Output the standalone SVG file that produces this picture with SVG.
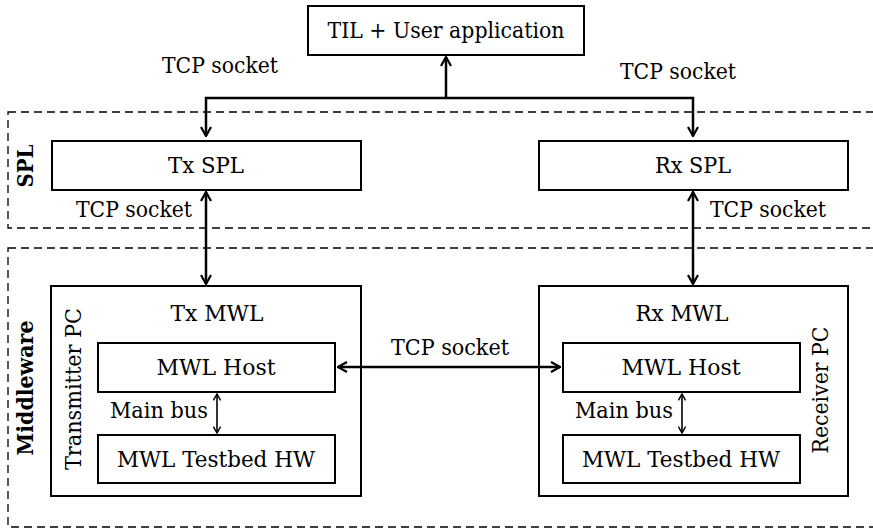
<svg xmlns="http://www.w3.org/2000/svg" width="873" height="529" viewBox="0 0 873 529">
<defs>
<style>
.bx{fill:#fff;stroke:#000;stroke-width:2}
.dash{fill:none;stroke:#000;stroke-width:1.3;stroke-dasharray:8 5}
.t{font-family:"DejaVu Serif","Liberation Serif",serif;font-size:22.5px;fill:#000;text-anchor:middle}
.b{font-weight:bold}
.c{fill:none;stroke:#000;stroke-width:2.5}
.cs{fill:none;stroke:#000;stroke-width:1.6}
</style>
<marker id="ah" viewBox="0 0 12 12" refX="11" refY="6" markerWidth="12" markerHeight="12" markerUnits="userSpaceOnUse" orient="auto-start-reverse">
<path d="M2,1 L11,6 L2,11" fill="none" stroke="#000" stroke-width="2.2"/>
</marker>
<marker id="ahs" viewBox="0 0 10 10" refX="9" refY="5" markerWidth="9" markerHeight="9" markerUnits="userSpaceOnUse" orient="auto-start-reverse">
<path d="M2,1 L9,5 L2,9" fill="none" stroke="#000" stroke-width="1.6"/>
</marker>
</defs>
<rect width="873" height="529" fill="#fff"/>

<g id="spl-region">
<rect class="dash" x="8" y="112" width="880" height="116"/>
<text class="t b" transform="translate(33,166) rotate(-90)" textLength="43" lengthAdjust="spacingAndGlyphs">SPL</text>
</g>
<g id="middleware-region">
<rect class="dash" x="8" y="248" width="880" height="279"/>
<text class="t b" transform="translate(33,388) rotate(-90)" textLength="135" lengthAdjust="spacingAndGlyphs">Middleware</text>
</g>

<g id="til">
<rect class="bx" x="308" y="6" width="276" height="49"/>
<text class="t" x="446" y="38" textLength="237" lengthAdjust="spacingAndGlyphs">TIL + User application</text>
</g>

<g id="tx-spl">
<rect class="bx" x="52" y="141" width="309" height="49"/>
<text class="t" x="206" y="173" textLength="76" lengthAdjust="spacingAndGlyphs">Tx SPL</text>
</g>
<g id="rx-spl">
<rect class="bx" x="539" y="141" width="309" height="49"/>
<text class="t" x="693" y="173" textLength="76" lengthAdjust="spacingAndGlyphs">Rx SPL</text>
</g>

<g id="tx-mwl">
<rect class="bx" x="51" y="286" width="310" height="210"/>
<text class="t" x="217" y="321" textLength="93" lengthAdjust="spacingAndGlyphs">Tx MWL</text>
<text class="t" transform="translate(81,389) rotate(-90)" textLength="162" lengthAdjust="spacingAndGlyphs">Transmitter PC</text>
</g>
<g id="tx-host">
<rect class="bx" x="98" y="343" width="237" height="49"/>
<text class="t" x="216" y="375" textLength="119" lengthAdjust="spacingAndGlyphs">MWL Host</text>
</g>
<g id="tx-hw">
<rect class="bx" x="98" y="435" width="237" height="48"/>
<text class="t" x="216" y="467" textLength="198" lengthAdjust="spacingAndGlyphs">MWL Testbed HW</text>
</g>

<g id="rx-mwl">
<rect class="bx" x="539" y="286" width="309" height="210"/>
<text class="t" x="682" y="321" textLength="93" lengthAdjust="spacingAndGlyphs">Rx MWL</text>
<text class="t" transform="translate(828,390) rotate(-90)" textLength="127" lengthAdjust="spacingAndGlyphs">Receiver PC</text>
</g>
<g id="rx-host">
<rect class="bx" x="563" y="343" width="237" height="49"/>
<text class="t" x="681" y="375" textLength="119" lengthAdjust="spacingAndGlyphs">MWL Host</text>
</g>
<g id="rx-hw">
<rect class="bx" x="563" y="435" width="237" height="48"/>
<text class="t" x="681" y="467" textLength="198" lengthAdjust="spacingAndGlyphs">MWL Testbed HW</text>
</g>

<g id="connectors">
<line class="c" x1="446" y1="98" x2="446" y2="57" marker-end="url(#ah)"/>
<polyline class="c" points="206,136 206,98 693,98 693,136" marker-start="url(#ah)" marker-end="url(#ah)"/>
<line class="c" x1="206" y1="192" x2="206" y2="284" marker-start="url(#ah)" marker-end="url(#ah)"/>
<line class="c" x1="693" y1="192" x2="693" y2="284" marker-start="url(#ah)" marker-end="url(#ah)"/>
<line class="c" x1="338" y1="367" x2="560" y2="367" marker-start="url(#ah)" marker-end="url(#ah)"/>
<line class="cs" x1="217" y1="394" x2="217" y2="433" marker-start="url(#ahs)" marker-end="url(#ahs)"/>
<line class="cs" x1="682" y1="394" x2="682" y2="433" marker-start="url(#ahs)" marker-end="url(#ahs)"/>
<text class="t" x="220" y="73" textLength="116" lengthAdjust="spacingAndGlyphs">TCP socket</text>
<text class="t" x="678" y="79" textLength="116" lengthAdjust="spacingAndGlyphs">TCP socket</text>
<text class="t" x="134" y="217" textLength="116" lengthAdjust="spacingAndGlyphs">TCP socket</text>
<text class="t" x="768" y="217" textLength="116" lengthAdjust="spacingAndGlyphs">TCP socket</text>
<text class="t" x="450" y="355" textLength="118" lengthAdjust="spacingAndGlyphs">TCP socket</text>
<text class="t" x="159" y="418" textLength="98" lengthAdjust="spacingAndGlyphs">Main bus</text>
<text class="t" x="624" y="418" textLength="98" lengthAdjust="spacingAndGlyphs">Main bus</text>
</g>
</svg>
